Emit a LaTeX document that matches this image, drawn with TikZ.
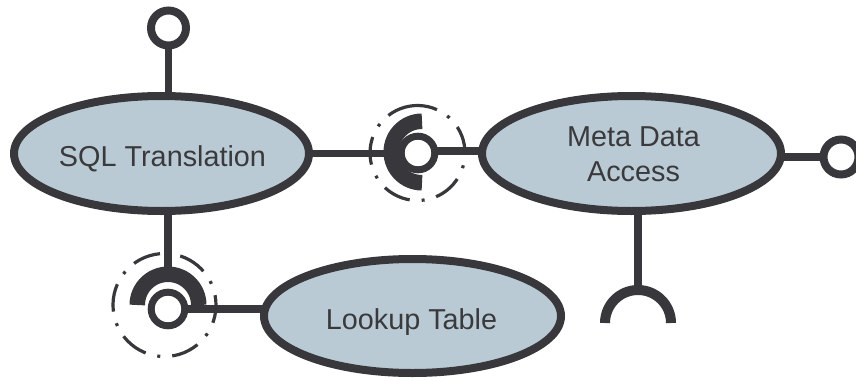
\documentclass[tikz,border=0pt]{standalone}
\usepackage{fontspec}
\setmainfont{Liberation Sans}
\usetikzlibrary{shapes.geometric,backgrounds}
\definecolor{ink}{HTML}{38383C}
\definecolor{compfill}{HTML}{B9CAD4}
\definecolor{txt}{HTML}{3A3A3C}
\tikzset{
  comp/.style={ellipse, draw=ink, fill=compfill, line width=8pt, inner sep=0pt},
  lbl/.style={text=txt, inner sep=0pt, align=center, font=\fontsize{28.8}{35}\selectfont},
  wire/.style={draw=ink, line width=7.5pt},
  ball/.style={circle, draw=ink, fill=white, line width=7pt, inner sep=0pt, minimum size=33.6pt},
  lolly/.style={circle, draw=ink, fill=white, line width=8pt, inner sep=0pt, minimum size=35pt},
  cup/.style={draw=ink, line width=15.5pt},
  req/.style={draw=ink, line width=10pt},
  halo/.style={draw=ink, line width=3.2pt, dash pattern=on 28pt off 12pt on 3pt off 12pt}
}
\begin{document}
\begin{tikzpicture}[x=1pt, y=1pt]
\useasboundingbox (0,0) rectangle (856,-380);

% components
\node[comp, minimum width=295pt, minimum height=115pt] (sql) at (161.5,-153.5) {};
\node[comp, minimum width=299pt, minimum height=115pt] (meta) at (631.5,-153.5) {};
\node[comp, minimum width=297pt, minimum height=114pt] (lookup) at (412.5,-316) {};
\node[lbl, anchor=base] (sqlName) at (162.5,-166.7) {SQL Translation};
\node[lbl] (metaName) at (633.5,-154) {Meta Data\\Access};
\node[lbl, anchor=base] (lookupName) at (411.5,-329) {Lookup Table};

% provided interfaces (lollipops)
\node[lolly] (pTop) at (168.5,-28) {};
\node[lolly] (pRight) at (841,-157) {};

% assembly connector: SQL Translation -- Meta Data Access
\coordinate (j1) at (422,-152);
\draw[cup] ([yshift=30.75pt]j1) arc[start angle=90, end angle=270, radius=30.75pt];
\coordinate (s1) at ([xshift=-30.75pt]j1);
\node[ball] (b1) at (418,-153) {};
\coordinate (h1) at (417.5,-153);
\draw[halo, rotate around={94:(h1)}] (h1) circle[radius=47.5pt];

% assembly connector: SQL Translation -- Lookup Table
\coordinate (j2) at (168,-305);
\draw[cup] ([xshift=-30.75pt]j2) arc[start angle=180, end angle=0, radius=30.75pt];
\coordinate (s2) at ([yshift=30.75pt]j2);
\node[ball] (b2) at (168,-309) {};
\coordinate (h2) at (164.5,-305);
\draw[halo, rotate around={95:(h2)}] (h2) circle[radius=51.5pt];

% required interface of Meta Data Access
\coordinate (j3) at (638,-323);
\draw[req] ([xshift=-33pt]j3) arc[start angle=180, end angle=0, radius=33pt];
\coordinate (s3) at ([yshift=33pt]j3);

% wiring
\begin{scope}[on background layer]
  \draw[wire] (pTop.center) -- (pTop.center |- sql.center);
  \draw[wire] (s2 |- sql.center) -- (s2);
  \draw[wire] (sql.center) -- (s1 |- sql.center);
  \draw[wire] ([yshift=2pt]b1.center) -- ([yshift=2pt]b1.center -| meta.center);
  \draw[wire] (b2.center) -- (b2.center -| lookup.center);
  \draw[wire] (pRight.center) -- (pRight.center -| meta.center);
  \draw[wire] (s3 |- meta.center) -- (s3);
\end{scope}
\end{tikzpicture}
\end{document}
